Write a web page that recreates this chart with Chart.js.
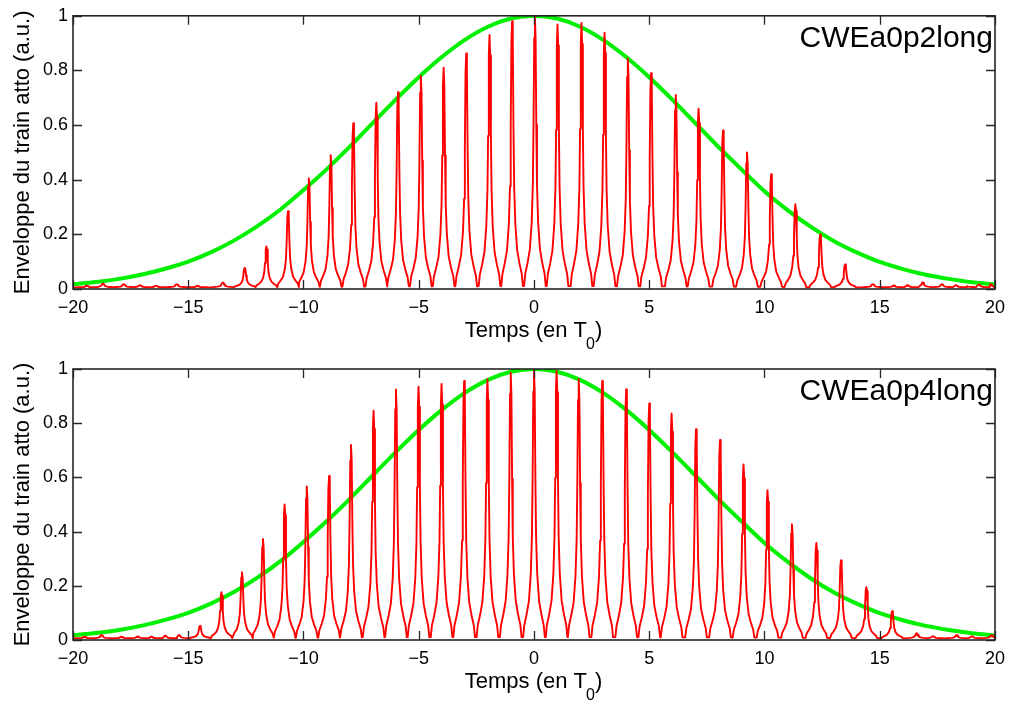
<!DOCTYPE html>
<html>
<head>
<meta charset="utf-8">
<script src="https://cdn.jsdelivr.net/npm/chart.js@4.4.0/dist/chart.umd.min.js"></script>
<style>
  html, body { margin: 0; padding: 0; background: #fff; }
  canvas { position: absolute; left: 0; }
  #chartTop { top: 0; }
  #chartBottom { top: 350px; }
</style>
</head>
<body>
<canvas id="chartTop" width="1013" height="350"></canvas>
<canvas id="chartBottom" width="1013" height="352"></canvas>
<script>
'use strict';
// axis ticks (time in units of T0)
var xTicks = [-20, -15, -10, -5, 0, 5, 10, 15, 20];
var xTickLabels = ['\u221220', '\u221215', '\u221210', '\u22125', '0', '5', '10', '15', '20'];
var yTicks = [0, 0.2, 0.4, 0.6, 0.8, 1];
var yTickLabels = ['0', '0.2', '0.4', '0.6', '0.8', '1'];

// green envelope, one sample per T0
var envTimes = [-20, -19, -18, -17, -16, -15, -14, -13, -12, -11, -10, -9, -8, -7, -6, -5, -4, -3, -2, -1, 0,
  1, 2, 3, 4, 5, 6, 7, 8, 9, 10, 11, 12, 13, 14, 15, 16, 17, 18, 19, 20];
var envelope = [0.018, 0.026, 0.037, 0.053, 0.074, 0.100, 0.135, 0.178, 0.230, 0.291, 0.362, 0.438, 0.520, 0.607, 0.693, 0.775, 0.849, 0.912, 0.960, 0.990, 1.0,
  0.990, 0.960, 0.912, 0.849, 0.775, 0.693, 0.607, 0.520, 0.438, 0.358, 0.289, 0.228, 0.176, 0.134, 0.099, 0.073, 0.052, 0.037, 0.025, 0.017];

// pulse train CWEa0p2long
var peakTimesA = [-12.55, -11.61, -10.67, -9.77, -8.82, -7.84, -6.84, -5.90, -4.91, -3.92, -2.94, -1.93, -0.95, 0.04,
  1.02, 2.06, 3.06, 4.07, 5.08, 6.15, 7.14, 8.20, 9.24, 10.29, 11.34, 12.42, 13.50];
var peakHeightsA = [0.078, 0.156, 0.285, 0.405, 0.49, 0.607, 0.682, 0.72, 0.78, 0.81, 0.862, 0.93, 0.98, 0.998,
  0.968, 0.974, 0.938, 0.843, 0.79, 0.71, 0.66, 0.58, 0.50, 0.42, 0.31, 0.20, 0.09];
var bumpTimesA = [-19.4, -18.7, -17.8, -17.1, -16.4, -15.5, -14.6, -13.5, 14.7, 15.6, 16.2, 16.86, 17.7, 18.3, 18.7, 19.3, 19.8];
var bumpHeightsA = [0.012, 0.02, 0.018, 0.014, 0.012, 0.018, 0.012, 0.024, 0.018, 0.013, 0.014, 0.024, 0.018, 0.014, 0.018, 0.016, 0.018];

// pulse train CWEa0p4long
var peakTimesB = [-14.49, -13.56, -12.67, -11.76, -10.82, -9.86, -8.89, -7.94, -6.96, -5.99, -5.01, -4.01, -3.03, -2.02, -1.01, 0,
  0.98, 1.94, 2.96, 4.00, 5.00, 5.97, 7.03, 8.07, 9.09, 10.13, 11.19, 12.25, 13.32, 14.42, 15.54];
var peakHeightsB = [0.052, 0.176, 0.25, 0.373, 0.50, 0.567, 0.605, 0.72, 0.846, 0.925, 0.935, 0.945, 0.956, 0.962, 0.986, 0.996,
  0.993, 0.962, 0.956, 0.925, 0.873, 0.836, 0.778, 0.738, 0.648, 0.553, 0.427, 0.358, 0.294, 0.195, 0.106];
var bumpTimesB = [-19.5, -18.77, -17.9, -17.2, -16.6, -16.0, -15.4, 16.6, 17.3, 18.33, 19.0, 19.85];
var bumpHeightsB = [0.012, 0.018, 0.012, 0.013, 0.012, 0.016, 0.018, 0.025, 0.014, 0.018, 0.014, 0.018];

// profile of a single pulse around its maximum (fraction of the peak)
var pulseOffsets = [-0.47, -0.42, -0.32, -0.22, -0.14, -0.09, -0.06, -0.03, 0, 0.03, 0.06, 0.09, 0.14, 0.22, 0.32, 0.42, 0.47];
var pulseShape = [0.005, 0.05, 0.09, 0.14, 0.24, 0.38, 0.6, 0.92, 1, 0.92, 0.6, 0.38, 0.24, 0.14, 0.09, 0.05, 0.005];
var baseLevel = 0.006;

var fontFamily = '"Liberation Sans", Arial, Helvetica, sans-serif';

// builds the red line from pulse positions and heights
function buildTrain(times, heights, bTimes, bHeights) {
  var pulses = [];
  for (var i = 0; i < times.length; i++) {
    pulses.push({ t: times[i], h: heights[i] });
  }
  for (var j = 0; j < bTimes.length; j++) {
    pulses.push({ t: bTimes[j], h: bHeights[j] });
  }
  pulses.sort(function (a, b) { return a.t - b.t; });
  var pts = [{ x: -20, y: baseLevel }];
  for (var p = 0; p < pulses.length; p++) {
    for (var k = 0; k < pulseOffsets.length; k++) {
      var x = pulses[p].t + pulseOffsets[k];
      if (x <= pts[pts.length - 1].x || x >= 20) continue;
      pts.push({ x: x, y: baseLevel + (pulses[p].h - baseLevel) * pulseShape[k] });
    }
  }
  pts.push({ x: 20, y: baseLevel });
  return pts;
}

function buildEnvelope() {
  var pts = [];
  for (var i = 0; i < envTimes.length; i++) {
    pts.push({ x: envTimes[i], y: envelope[i] });
  }
  return pts;
}

// box, inward ticks on all four sides, run name and time-axis title
var framePlugin = {
  id: 'frame',
  afterDraw: function (chart, args, opts) {
    var ctx = chart.ctx;
    var a = chart.chartArea;
    var xs = chart.scales.x;
    var ys = chart.scales.y;
    ctx.save();
    ctx.strokeStyle = '#262626';
    ctx.lineWidth = 1.3;
    ctx.beginPath();
    xTicks.forEach(function (v) {
      var px = Math.round(xs.getPixelForValue(v)) + 0.5;
      ctx.moveTo(px, a.bottom); ctx.lineTo(px, a.bottom - 9);
      ctx.moveTo(px, a.top); ctx.lineTo(px, a.top + 9);
    });
    yTicks.forEach(function (v) {
      var py = Math.round(ys.getPixelForValue(v)) + 0.5;
      ctx.moveTo(a.left, py); ctx.lineTo(a.left + 9, py);
      ctx.moveTo(a.right, py); ctx.lineTo(a.right - 9, py);
    });
    ctx.stroke();
    ctx.lineWidth = 1.6;
    ctx.strokeRect(a.left, a.top, a.right - a.left, a.bottom - a.top);

    ctx.fillStyle = '#000';
    ctx.font = '30px ' + fontFamily;
    ctx.textAlign = 'right';
    ctx.textBaseline = 'alphabetic';
    ctx.fillText(opts.label, a.right - 2, a.top + 31);

    // "Temps (en T" + subscript 0 + ")"
    var mainFont = '22px ' + fontFamily;
    var subFont = '16px ' + fontFamily;
    ctx.font = mainFont;
    var w1 = ctx.measureText('Temps (en T').width;
    var w3 = ctx.measureText(')').width;
    ctx.font = subFont;
    var w2 = ctx.measureText('0').width;
    var x0 = (a.left + a.right) / 2 - (w1 + w2 + w3) / 2;
    var base = a.bottom + 47.7;
    ctx.textAlign = 'left';
    ctx.font = mainFont;
    ctx.fillText('Temps (en T', x0, base);
    ctx.font = subFont;
    ctx.fillText('0', x0 + w1 - 1, base + 12);
    ctx.font = mainFont;
    ctx.fillText(')', x0 + w1 + w2 - 1, base);
    ctx.restore();
  }
};

function makeChart(id, train, label, padTop, xHeight) {
  var ctx = document.getElementById(id).getContext('2d');
  return new Chart(ctx, {
    type: 'line',
    data: {
      datasets: [
        {
          data: train,
          borderColor: '#ff0000',
          borderWidth: 1.9,
          borderJoinStyle: 'round',
          pointRadius: 0,
          tension: 0
        },
        {
          data: buildEnvelope(),
          borderColor: '#00f000',
          borderWidth: 4,
          pointRadius: 0,
          cubicInterpolationMode: 'monotone'
        }
      ]
    },
    options: {
      responsive: false,
      animation: false,
      events: [],
      layout: { padding: { top: padTop, right: 13, left: 0, bottom: 0 } },
      plugins: {
        legend: { display: false },
        tooltip: { enabled: false },
        frame: { label: label }
      },
      scales: {
        x: {
          type: 'linear',
          min: -20,
          max: 20,
          grid: { display: false, drawTicks: false },
          border: { display: false },
          afterBuildTicks: function (scale) {
            scale.ticks = xTicks.map(function (v) { return { value: v }; });
          },
          afterFit: function (scale) { scale.height = xHeight; },
          ticks: {
            color: '#000',
            font: { size: 18, family: fontFamily },
            padding: 8,
            maxRotation: 0,
            autoSkip: false,
            callback: function (value, index) { return xTickLabels[index]; }
          }
        },
        y: {
          min: 0,
          max: 1,
          grid: { display: false, drawTicks: false },
          border: { display: false },
          afterBuildTicks: function (scale) {
            scale.ticks = yTicks.map(function (v) { return { value: v }; });
          },
          afterFit: function (scale) { scale.width = 73; },
          title: {
            display: true,
            text: 'Enveloppe du train atto (a.u.)',
            color: '#000',
            font: { size: 22, family: fontFamily },
            padding: { top: 10, bottom: 0 }
          },
          ticks: {
            color: '#000',
            font: { size: 18, family: fontFamily },
            padding: 5,
            autoSkip: false,
            callback: function (value, index) { return yTickLabels[index]; }
          }
        }
      }
    },
    plugins: [framePlugin]
  });
}

makeChart('chartTop', buildTrain(peakTimesA, peakHeightsA, bumpTimesA, bumpHeightsA), 'CWEa0p2long', 11, 61);
makeChart('chartBottom', buildTrain(peakTimesB, peakHeightsB, bumpTimesB, bumpHeightsB), 'CWEa0p4long', 19, 62);
</script>
</body>
</html>
